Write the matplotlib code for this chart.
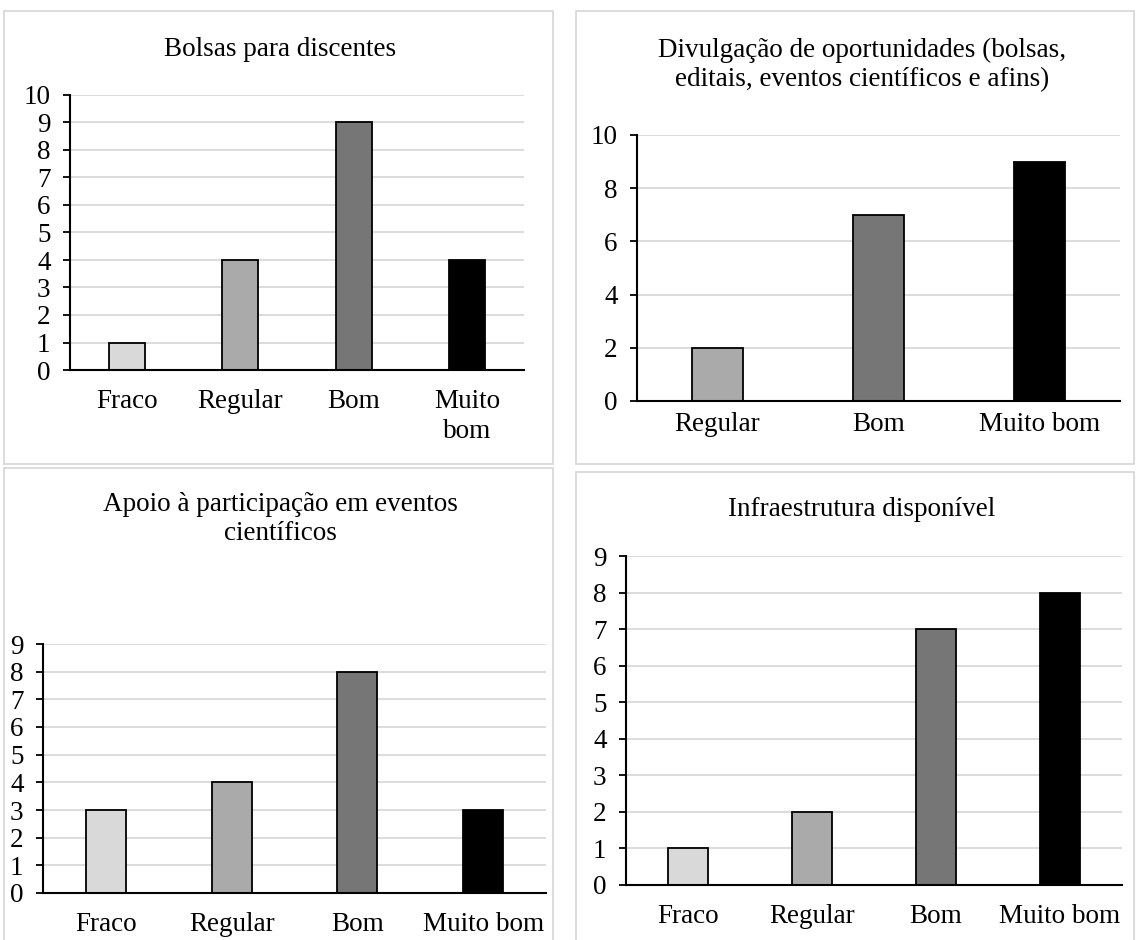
import matplotlib
matplotlib.use("Agg")
import matplotlib.pyplot as plt
from matplotlib.patches import Rectangle

plt.rcParams['font.family'] = ['Liberation Serif', 'DejaVu Serif']

# data
cats4 = ['Fraco', 'Regular', 'Bom', 'Muito bom']
cats3 = ['Regular', 'Bom', 'Muito bom']
bolsas = [1, 4, 9, 4]
divulgacao = [2, 7, 9]
apoio = [3, 4, 8, 3]
infra = [1, 2, 7, 8]

colors = {'Fraco': '#d9d9d9', 'Regular': '#aaaaaa', 'Bom': '#767676', 'Muito bom': '#000000'}

W, H = 1136, 940
FS = 19.5
fig = plt.figure(figsize=(W / 100, H / 100), dpi=100)


def px_rect(x0, y0, x1, y1):
    # pixel box (top-left origin) -> figure fraction [left, bottom, w, h]
    return [x0 / W, 1 - y1 / H, (x1 - x0) / W, (y1 - y0) / H]


def frame(x0, y0, x1, y1):
    l, b, w, h = px_rect(x0, y0, x1, y1)
    fig.patches.append(Rectangle((l, b), w, h, transform=fig.transFigure,
                                 facecolor='none', edgecolor='#d9d9d9', lw=1.3, zorder=0))


def panel(box, cats, vals, ymax, ystep, labels, xpad):
    ax = fig.add_axes(px_rect(*box))
    ax.patch.set_alpha(0)
    x = range(len(cats))
    ax.bar(x, vals, width=0.32, color=[colors[c] for c in cats],
           edgecolor='black', linewidth=1.3, zorder=3)
    ax.set_xlim(-0.5, len(cats) - 0.5)
    ax.set_ylim(0, ymax)
    ax.set_yticks(range(0, ymax + 1, ystep))
    ax.set_xticks(list(x))
    ax.set_xticklabels(labels, fontsize=FS, va='top', linespacing=1.25)
    ax.tick_params(axis='x', length=0, pad=xpad)
    ax.tick_params(axis='y', length=5, width=1.3, pad=9, labelsize=FS)
    ax.grid(axis='y', color='#d9d9d9', lw=1.3, zorder=0)
    ax.set_axisbelow(True)
    for s in ['top', 'right']:
        ax.spines[s].set_visible(False)
    for s in ['left', 'bottom']:
        ax.spines[s].set_linewidth(1.5)
        ax.spines[s].set_zorder(4)
    return ax


# panel frames
frame(4, 11, 553, 464)
frame(576, 11, 1134, 464)
frame(4, 468, 553, 945)
frame(576, 472, 1134, 945)

panel((70, 95, 524, 370), cats4, bolsas, 10, 1,
      ['Fraco', 'Regular', 'Bom', 'Muito\nbom'], 14)
panel((637, 135, 1120, 401), cats3, divulgacao, 10, 2, cats3, 8)
panel((43, 644, 546, 893), cats4, apoio, 9, 1, cats4, 14)
panel((626, 556, 1122, 885), cats4, infra, 9, 1, cats4, 14)

fig.text(280 / W, 1 - 49 / H, 'Bolsas para discentes', fontsize=FS,
         ha='center', va='center')
fig.text(862 / W, 1 - 65 / H,
         'Divulgação de oportunidades (bolsas,\neditais, eventos científicos e afins)',
         fontsize=FS, ha='center', va='center', linespacing=1.25)
fig.text(280 / W, 1 - 519 / H, 'Apoio à participação em eventos\ncientíficos',
         fontsize=FS, ha='center', va='center', linespacing=1.25)
fig.text(862 / W, 1 - 510 / H, 'Infraestrutura disponível', fontsize=FS,
         ha='center', va='center')

fig.savefig('out.png', dpi=100, facecolor='white')
